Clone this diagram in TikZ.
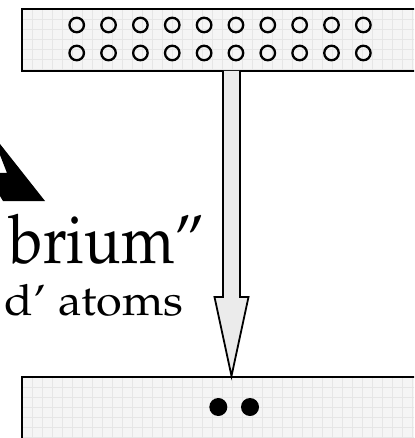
\documentclass[tikz,border=0pt]{standalone}
\usepackage[T1]{fontenc}
\usepackage{mathpazo}
\usepackage{graphicx}
\begin{document}
\begin{tikzpicture}[x=1pt,y=-1pt,
  ring/.style={draw=black,line width=2.3pt,circle,minimum size=14.5pt,inner sep=0pt},
  atom/.style={fill=black,circle,minimum size=18pt,inner sep=0pt},
  bigarrow/.style={draw=black,line width=1.8pt,fill=arrowfill,line join=miter},
  gridline/.style={draw=gridcol,line width=0.5pt},
  bigtext/.style={font=\fontsize{68}{68}\selectfont,inner sep=0pt},
  smalltext/.style={font=\fontsize{43}{43}\selectfont,inner sep=0pt}]
\definecolor{panelfill}{HTML}{F5F5F5}
\definecolor{gridcol}{HTML}{E6E6E6}
\definecolor{arrowfill}{HTML}{EBEBEB}
\useasboundingbox (0,0) rectangle (414,438);
\clip (0,0) rectangle (414,438);
% top panel
\fill[panelfill] (22,9) rectangle (430,71);
\foreach \gx in {32,42,...,422} {\draw[gridline] (\gx,9) -- (\gx,71);}
\foreach \gy in {19,29,...,69} {\draw[gridline] (22,\gy) -- (430,\gy);}
\draw[line width=2.6pt] (430,9) -- (22,9) -- (22,71) -- (430,71);
% bottom panel
\fill[panelfill] (22,377) rectangle (430,450);
\foreach \gx in {32,42,...,422} {\draw[gridline] (\gx,377) -- (\gx,450);}
\foreach \gy in {387,397,...,437} {\draw[gridline] (22,\gy) -- (430,\gy);}
\draw[line width=2pt] (22,450) -- (22,377) -- (430,377);
% rings
\foreach \i in {0,...,9} {
  \node[ring] (ra\i) at ({76.7+31.85*\i},25) {};
  \node[ring] (rb\i) at ({76.7+31.85*\i},53) {};
}
% atoms
\node[atom] (a1) at (218.3,407) {};
\node[atom] (a2) at (250,407) {};
% hollow arrow
\coordinate (tip) at (231.5,376);
\draw[bigarrow] (223,71) -- (223,297) -- (214.5,297) -- (tip) -- (248.5,297) -- (240,297) -- (240,71);
% black jagged arrow
\fill[black] (0,144) -- (45,201) -- (3,201) -- (0,196) -- (0,173) -- (7,173) -- (0,155) -- cycle;
% texts
\node[bigtext,anchor=base east] (t1) at (205,263) {\scalebox{0.89}[1]{brium''}};
\node[smalltext,anchor=base east] (t2) at (184,315) {\scalebox{1.09}[1]{d' atoms}};
\end{tikzpicture}
\end{document}
